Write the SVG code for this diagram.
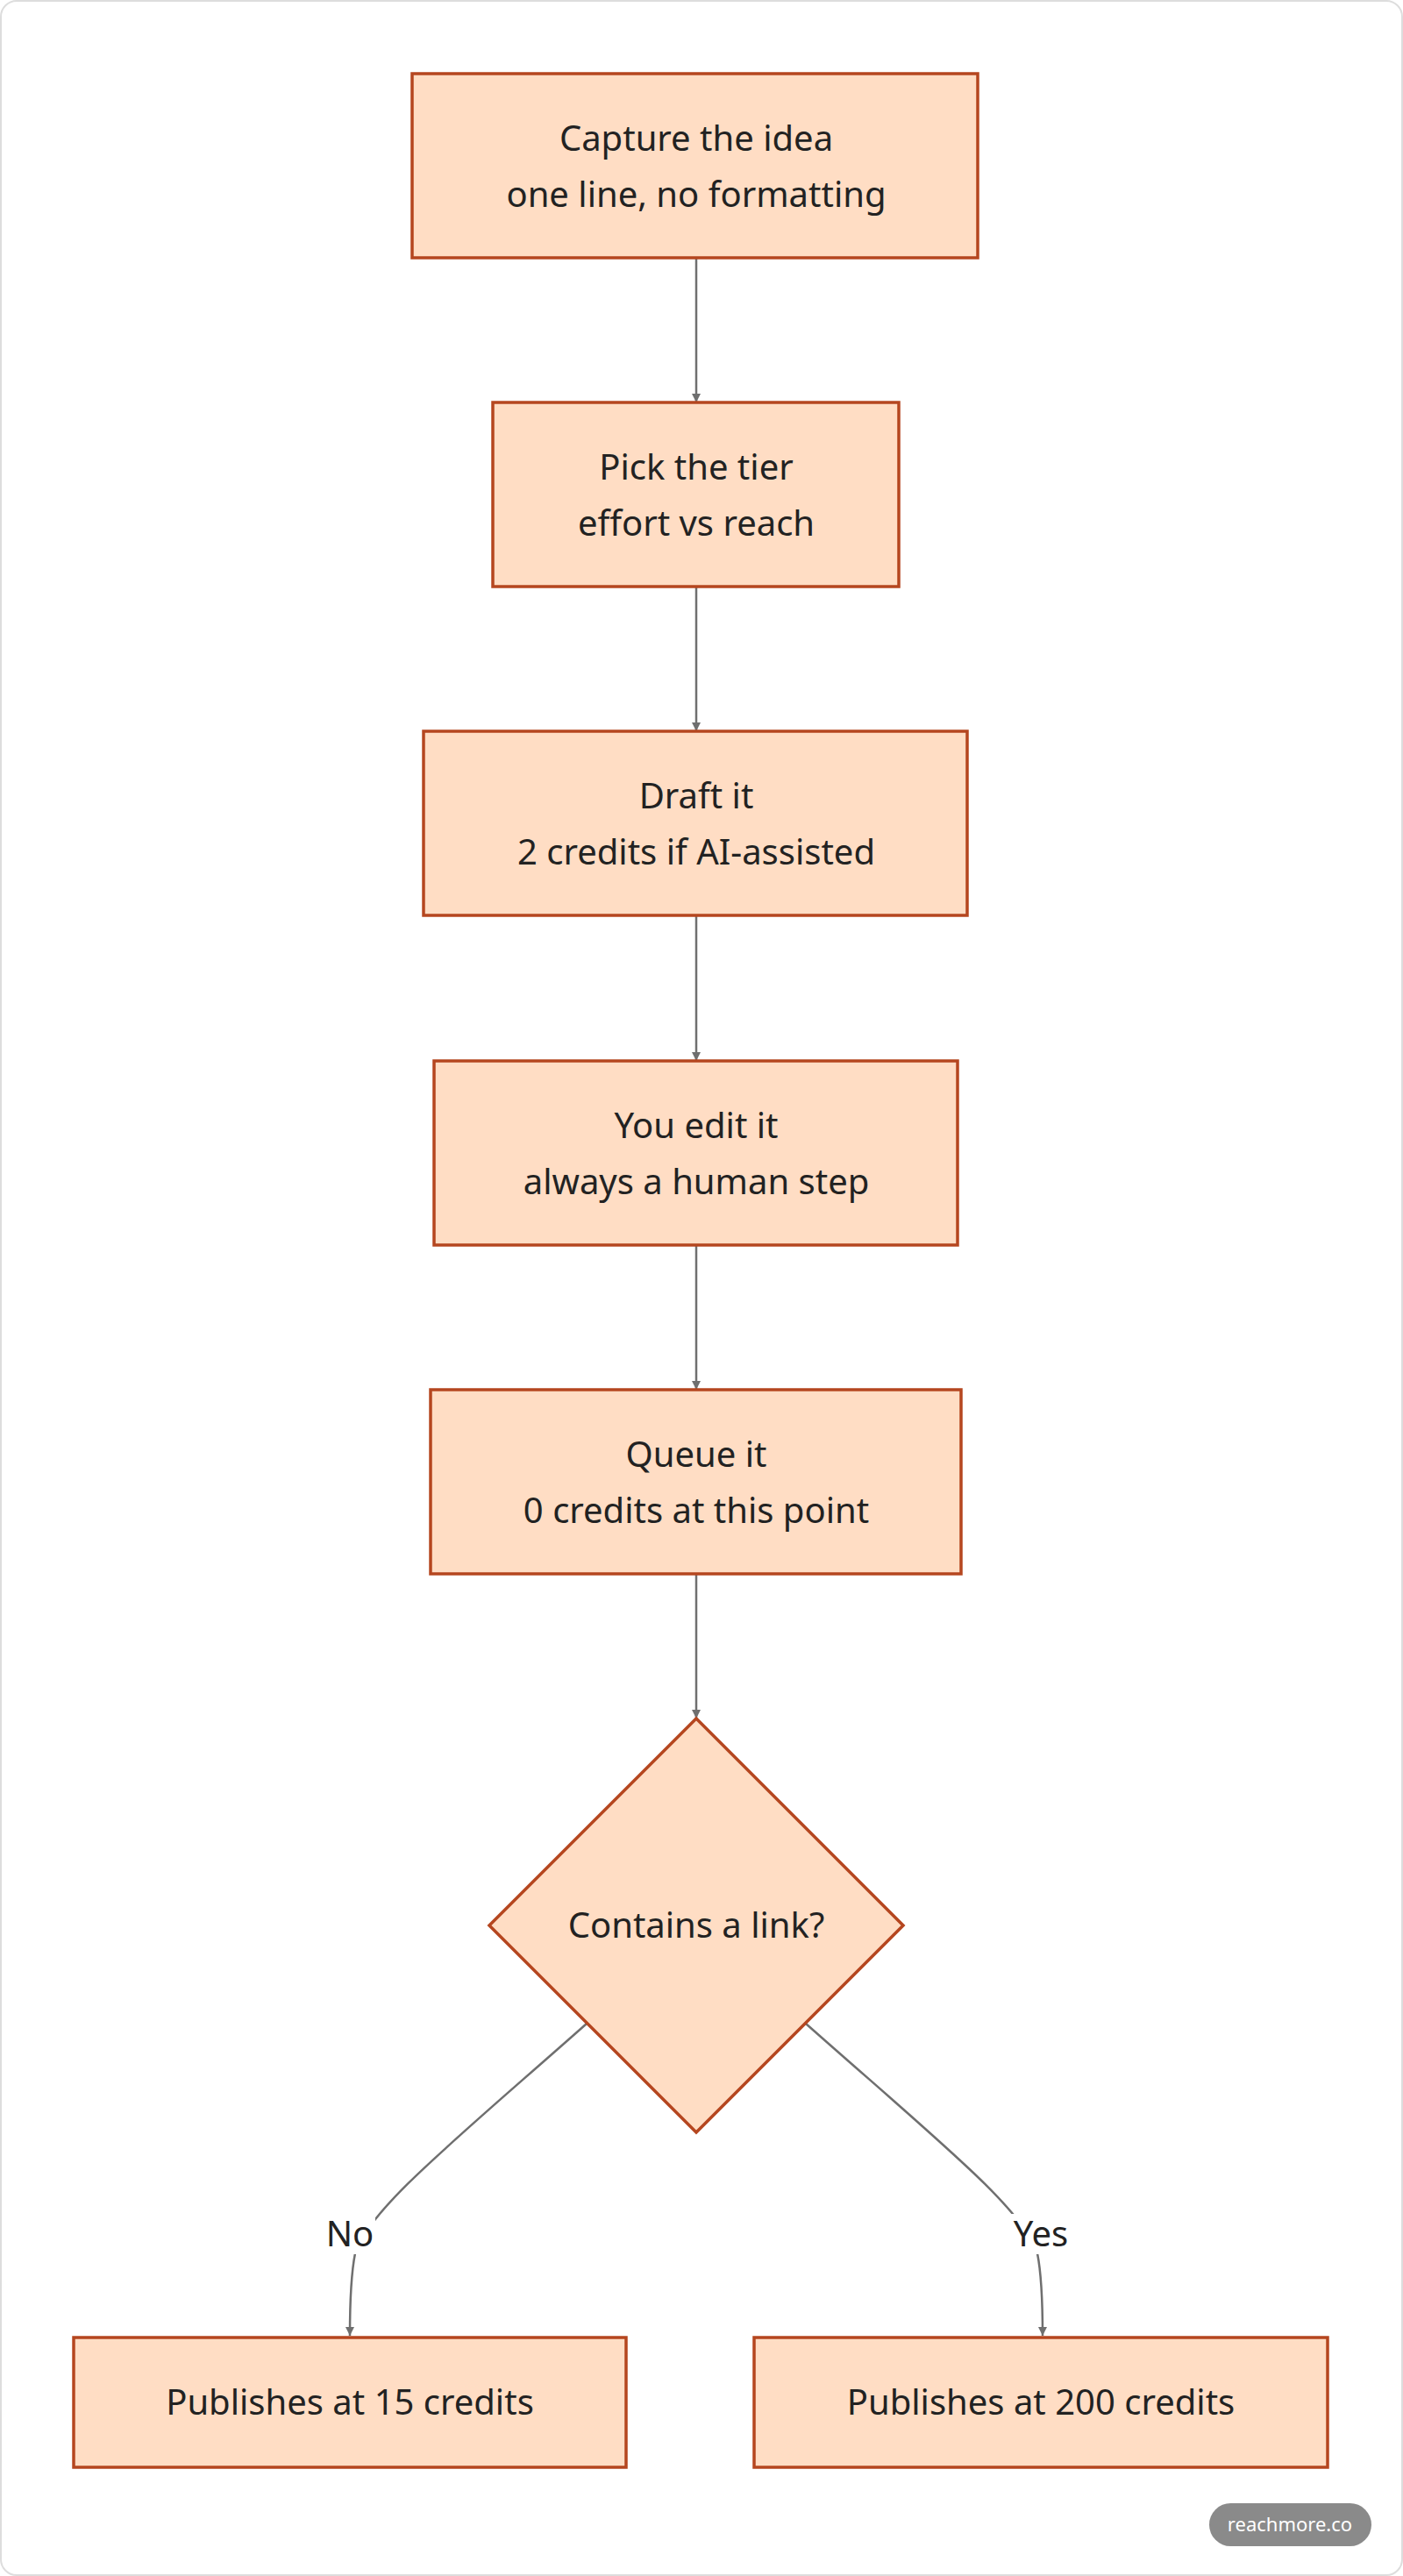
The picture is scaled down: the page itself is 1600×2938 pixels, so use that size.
<svg xmlns="http://www.w3.org/2000/svg" width="1600" height="2938" viewBox="0 0 1600 2938">
<style>
.n{fill:#FFDDC4;stroke:#B5461F;stroke-width:3.5}
.t{font-family:"Noto Sans","Open Sans",sans-serif;font-size:40px;fill:#222;text-anchor:middle}
.e{fill:none;stroke:#6f6f6f;stroke-width:2.5}
.l{font-family:"Noto Sans","Open Sans",sans-serif;font-size:40px;fill:#222;text-anchor:middle}
</style>
<defs><marker id="a" viewBox="0 0 10 10" refX="10" refY="5" markerWidth="10" markerHeight="10" markerUnits="userSpaceOnUse" orient="auto"><path d="M0,0L10,5L0,10z" fill="#6f6f6f"/></marker></defs>
<rect x="1" y="1" width="1598" height="2936" rx="18" fill="#fff" stroke="#ddd" stroke-width="2"/>
<g id="connectors">
<path class="e" d="M794,294V459" marker-end="url(#a)"/>
<path class="e" d="M794,669V834" marker-end="url(#a)"/>
<path class="e" d="M794,1044V1210" marker-end="url(#a)"/>
<path class="e" d="M794,1420V1585" marker-end="url(#a)"/>
<path class="e" d="M794,1795V1960" marker-end="url(#a)"/>
<path class="e" d="M669,2308C520,2440 420,2520 405,2570Q399,2600 399,2664" marker-end="url(#a)"/>
<path class="e" d="M919,2308C1068,2440 1168,2520 1183,2570Q1189,2600 1189,2664" marker-end="url(#a)"/>
<rect x="370" y="2525" width="58" height="46" fill="#fff"/>
<text class="l" x="399" y="2562">No</text>
<rect x="1152" y="2525" width="70" height="46" fill="#fff"/>
<text class="l" x="1187" y="2562">Yes</text>
</g>
<g id="n1"><rect class="n" x="470" y="84" width="645" height="210"/><text class="t" x="794" y="172">Capture the idea</text><text class="t" x="794" y="236">one line, no formatting</text></g>
<g id="n2"><rect class="n" x="562" y="459" width="463" height="210"/><text class="t" x="794" y="547">Pick the tier</text><text class="t" x="794" y="611">effort vs reach</text></g>
<g id="n3"><rect class="n" x="483" y="834" width="620" height="210"/><text class="t" x="794" y="922">Draft it</text><text class="t" x="794" y="986">2 credits if AI-assisted</text></g>
<g id="n4"><rect class="n" x="495" y="1210" width="597" height="210"/><text class="t" x="794" y="1298">You edit it</text><text class="t" x="794" y="1362">always a human step</text></g>
<g id="n5"><rect class="n" x="491" y="1585" width="605" height="210"/><text class="t" x="794" y="1673">Queue it</text><text class="t" x="794" y="1737">0 credits at this point</text></g>
<g id="d"><path class="n" d="M794,1960L1030,2196L794,2432L558,2196Z"/><text class="t" x="794" y="2210">Contains a link?</text></g>
<g id="n6"><rect class="n" x="84" y="2666" width="630" height="148"/><text class="t" x="399" y="2754">Publishes at 15 credits</text></g>
<g id="n7"><rect class="n" x="860" y="2666" width="654" height="148"/><text class="t" x="1187" y="2754">Publishes at 200 credits</text></g>
<g id="badge"><rect x="1379" y="2855" width="185" height="49" rx="24.5" fill="#8a8a8a"/><text x="1471" y="2887" font-family="Noto Sans,sans-serif" font-size="22" fill="#fff" text-anchor="middle">reachmore.co</text></g>
</svg>
